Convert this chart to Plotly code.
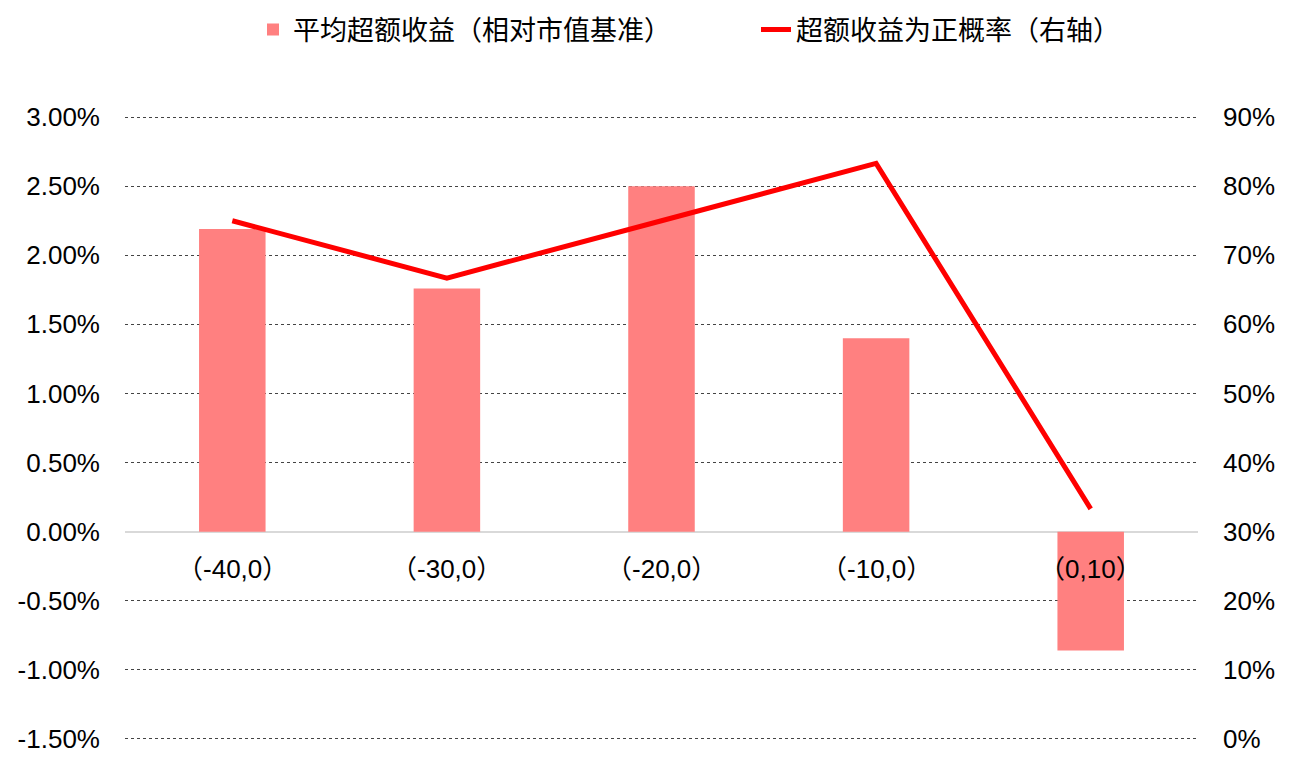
import plotly.graph_objects as go

categories = ["（-40,0）", "（-30,0）", "（-20,0）", "（-10,0）", "（0,10）"]
excess_return = [0.0219, 0.0176, 0.0250, 0.0140, -0.0086]
positive_prob = [0.750, 0.667, 0.750, 0.833, 0.333]

left_tick_vals = [-0.015, -0.010, -0.005, 0.0, 0.005, 0.010, 0.015, 0.020, 0.025, 0.030]
left_tick_text = ["-1.50%", "-1.00%", "-0.50%", "0.00%", "0.50%", "1.00%",
                  "1.50%", "2.00%", "2.50%", "3.00%"]
right_tick_vals = [0.0, 0.1, 0.2, 0.3, 0.4, 0.5, 0.6, 0.7, 0.8, 0.9]
right_tick_text = ["0%", "10%", "20%", "30%", "40%", "50%", "60%", "70%", "80%", "90%"]

bar_name = "平均超额收益（相对市值基准）"
line_name = "超额收益为正概率（右轴）"

FONT = "Liberation Sans, Arial, Noto Sans CJK SC, sans-serif"
CJK = "Noto Sans CJK SC"
FS = 26


def cjk_parens(s):
    op = '<span style="font-family:' + CJK + '">（</span>'
    cl = '<span style="font-family:' + CJK + '">）</span>'
    return s.replace("（", op).replace("）", cl)


fig = go.Figure()
fig.add_trace(go.Bar(
    x=categories, y=excess_return, name=bar_name,
    marker=dict(color="#FF8080", line=dict(width=0)),
    yaxis="y",
))
fig.add_trace(go.Scatter(
    x=categories, y=positive_prob, name=line_name,
    mode="lines", line=dict(color="#FF0000", width=5),
    yaxis="y2",
))

for c in categories:
    fig.add_annotation(
        x=c, y=0, xref="x", yref="y", text=cjk_parens(c), showarrow=False,
        yanchor="middle", yshift=-35,
        font=dict(size=FS, color="#000000", family=FONT),
    )

eps = 0.00015
fig.update_layout(
    width=1305, height=768,
    margin=dict(l=125, r=107, t=115, b=27, autoexpand=False),
    paper_bgcolor="white", plot_bgcolor="white",
    font=dict(family=FONT, size=FS, color="#000000"),
    bargap=0.69,
    showlegend=True,
    legend=dict(
        orientation="h", xref="container", x=253 / 1305, xanchor="left",
        yref="container", y=0.961, yanchor="middle",
        font=dict(size=27, family=FONT), entrywidth=458, entrywidthmode="pixels",
    ),
    xaxis=dict(showticklabels=False, showgrid=False, zeroline=False,
               showline=False, ticks="", automargin=False),
    yaxis=dict(
        range=[-0.015 - eps, 0.030 + eps],
        tickmode="array", tickvals=left_tick_vals, ticktext=left_tick_text,
        showgrid=True, gridcolor="#444444", griddash="dot", gridwidth=1,
        zeroline=True, zerolinecolor="#D9D9D9", zerolinewidth=2,
        showline=False, ticks="", ticklabelstandoff=24, automargin=False,
        tickfont=dict(size=FS, family=FONT),
    ),
    yaxis2=dict(
        range=[0 - eps * 20, 0.90 + eps * 20],
        tickmode="array", tickvals=right_tick_vals, ticktext=right_tick_text,
        overlaying="y", side="right", showgrid=False, zeroline=False,
        showline=False, ticks="", ticklabelstandoff=24, automargin=False,
        tickfont=dict(size=FS, family=FONT),
    ),
)

fig.write_html("out.html", config={"displayModeBar": False},
               post_script="document.body.style.margin='0';")
